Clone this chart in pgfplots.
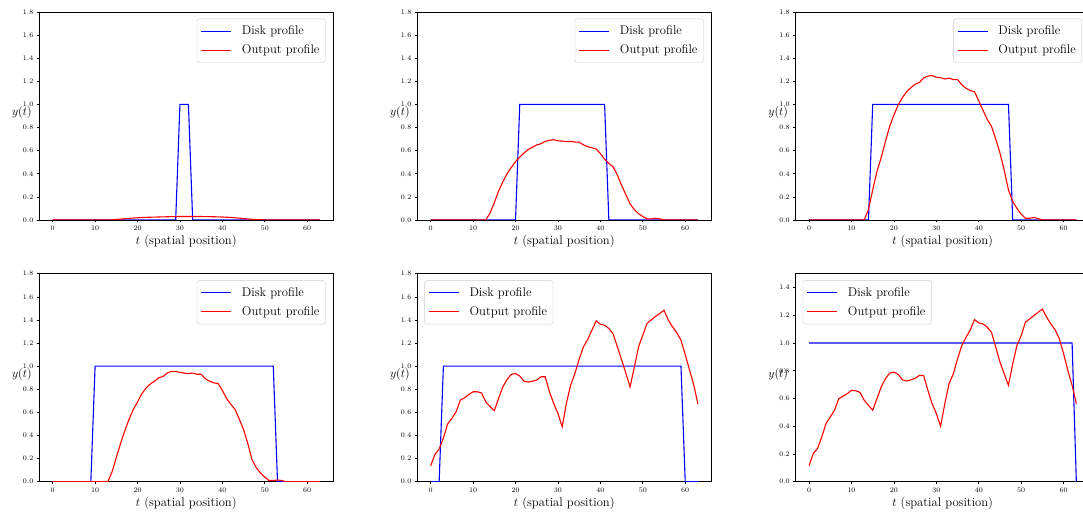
\documentclass[border=0pt]{standalone}
\usepackage{pgfplots}
\usepackage{pgfplotstable}
\pgfplotsset{compat=1.18}

\pgfplotstableread{
t p1 p2 p3 p4 p5 p6
0 0 0 0 0 0.138 0.115
1 0 0 0 0 0.236 0.204
2 0 0 0 0 0.282 0.240
3 0 0 0 0 0.378 0.323
4 0 0 0 0 0.500 0.420
5 0 0 0 0 0.548 0.467
6 0 0 0 0 0.605 0.515
7 0 0 0 0 0.706 0.599
8 0 0 0 0 0.726 0.616
9 0 0 0 0 0.755 0.635
10 0 0 0 0 0.778 0.659
11 0 0 0 0 0.778 0.656
12 0 0 0 0 0.767 0.644
13 0 0 0 0 0.690 0.587
14 0.002 0.06 0.09 0.085 0.650 0.551
15 0.005 0.15 0.26 0.21 0.614 0.515
16 0.008 0.25 0.42 0.33 0.720 0.599
17 0.011 0.33 0.54 0.44 0.820 0.683
18 0.014 0.40 0.68 0.54 0.885 0.743
19 0.017 0.455 0.81 0.625 0.928 0.783
20 0.019 0.505 0.91 0.69 0.937 0.790
21 0.021 0.545 0.995 0.76 0.914 0.774
22 0.023 0.58 1.06 0.81 0.870 0.735
23 0.024 0.61 1.11 0.845 0.862 0.726
24 0.025 0.63 1.145 0.87 0.870 0.735
25 0.026 0.65 1.175 0.90 0.879 0.745
26 0.027 0.66 1.19 0.91 0.908 0.766
27 0.028 0.68 1.23 0.94 0.908 0.766
28 0.029 0.69 1.245 0.955 0.778 0.659
29 0.029 0.695 1.25 0.955 0.677 0.563
30 0.030 0.685 1.235 0.945 0.590 0.491
31 0.030 0.683 1.232 0.94 0.475 0.400
32 0.030 0.678 1.22 0.935 0.680 0.563
33 0.030 0.68 1.228 0.94 0.836 0.707
34 0.030 0.675 1.215 0.93 0.937 0.778
35 0.030 0.673 1.215 0.93 1.060 0.886
36 0.029 0.65 1.17 0.89 1.167 0.982
37 0.029 0.635 1.14 0.87 1.230 1.042
38 0.028 0.625 1.12 0.855 1.310 1.095
39 0.027 0.615 1.11 0.85 1.392 1.169
40 0.026 0.575 1.03 0.79 1.363 1.145
41 0.024 0.525 0.95 0.72 1.354 1.138
42 0.022 0.49 0.87 0.67 1.326 1.114
43 0.019 0.46 0.81 0.625 1.280 1.078
44 0.016 0.39 0.70 0.54 1.167 0.970
45 0.012 0.30 0.58 0.45 1.055 0.862
46 0.009 0.22 0.43 0.33 0.940 0.778
47 0.006 0.14 0.26 0.19 0.820 0.695
48 0.003 0.09 0.16 0.12 0.990 0.850
49 0.002 0.055 0.10 0.075 1.167 0.982
50 0.001 0.03 0.05 0.04 1.268 1.054
51 0 0.01 0.015 0.01 1.370 1.150
52 0 0.01 0.015 0.01 1.400 1.174
53 0 0.015 0.022 0.015 1.430 1.198
54 0 0.01 0.012 0.01 1.455 1.222
55 0 0 0 0 1.484 1.245
56 0 0 0 0 1.400 1.186
57 0 0 0 0 1.340 1.138
58 0 0 0 0 1.290 1.095
59 0 0 0 0 1.225 1.030
60 0 0 0 0 1.100 0.922
61 0 0 0 0 0.970 0.802
62 0 0 0 0 0.840 0.695
63 0 0 0 0 0.670 0.563
}\outdata

\pgfplotsset{
  panel/.style={
    scale only axis, width=294pt, height=208pt,
    xmin=-3.15, xmax=66.15, ymin=0, ymax=1.8,
    xtick={0,10,20,30,40,50,60},
    ytick={0,0.2,0.4,0.6,0.8,1.0,1.2,1.4,1.6,1.8},
    tick pos=left, tick align=outside, major tick length=2.5pt,
    tick style={black, line width=0.6pt},
    axis line style={line width=0.9pt},
    ticklabel style={font=\fontsize{7}{8}\selectfont},
    yticklabel style={/pgf/number format/.cd, fixed, fixed zerofill, precision=1},
    every axis label/.append style={font=\fontsize{12.6}{14}\selectfont},
    every axis y label/.style={at={(axis description cs:0,0.5)}, anchor=base, xshift=-17.5pt},
    every axis x label/.style={at={(axis description cs:0.5,0)}, anchor=base, yshift=-25pt},
    xlabel={$t$ (spatial position)}, ylabel={$y(t)$},
    legend cell align=left,
    legend image code/.code={\fill[##1, sharp corners, draw=none] (0pt,-0.55pt) rectangle (30pt,0.55pt);},
    legend style={font=\fontsize{12.6}{14}\selectfont, draw=black!20, rounded corners=2.5pt,
      row sep=3.5pt, inner xsep=4.5pt, inner ysep=4.5pt,
      nodes={inner xsep=1.5pt, inner ysep=2.6pt},
      /tikz/every odd column/.append style={column sep=9pt}},
  },
  legne/.style={legend style={at={(axis description cs:0.974,0.968)}, anchor=north east}},
  legnw/.style={legend style={at={(axis description cs:0.024,0.968)}, anchor=north west}},
  blueline/.style={blue, line width=1.1pt},
  redline/.style={red, line width=1.1pt},
}

\begin{document}
\begin{tikzpicture}
\useasboundingbox (0,0) rectangle (1083pt,513pt);

% Panel 1
\begin{axis}[panel, legne, at={(39.3pt,293pt)}, anchor=south west]
\addplot[blueline] coordinates {(0,0) (29,0) (30,1) (32,1) (33,0) (63,0)};
\addlegendentry{Disk profile}
\addplot[redline] table[x=t, y=p1] {\outdata};
\addlegendentry{Output profile}
\end{axis}

% Panel 2
\begin{axis}[panel, legne, at={(417.3pt,293pt)}, anchor=south west]
\addplot[blueline] coordinates {(0,0) (20,0) (21,1) (41,1) (42,0) (63,0)};
\addlegendentry{Disk profile}
\addplot[redline] table[x=t, y=p2] {\outdata};
\addlegendentry{Output profile}
\end{axis}

% Panel 3
\begin{axis}[panel, legne, at={(795.7pt,293pt)}, anchor=south west]
\addplot[blueline] coordinates {(0,0) (14,0) (15,1) (47,1) (48,0) (63,0)};
\addlegendentry{Disk profile}
\addplot[redline] table[x=t, y=p3] {\outdata};
\addlegendentry{Output profile}
\end{axis}

% Panel 4
\begin{axis}[panel, legne, at={(39.3pt,31.3pt)}, anchor=south west]
\addplot[blueline] coordinates {(0,0) (9,0) (10,1) (52,1) (53,0) (63,0)};
\addlegendentry{Disk profile}
\addplot[redline] table[x=t, y=p4] {\outdata};
\addlegendentry{Output profile}
\end{axis}

% Panel 5
\begin{axis}[panel, legnw, at={(417.3pt,31.3pt)}, anchor=south west]
\addplot[blueline] coordinates {(0,0) (2,0) (3,1) (59,1) (60,0) (63,0)};
\addlegendentry{Disk profile}
\addplot[redline] table[x=t, y=p5] {\outdata};
\addlegendentry{Output profile}
\end{axis}

% Panel 6
\begin{axis}[panel, legnw, at={(795.7pt,31.3pt)}, anchor=south west,
  ymax=1.5, ytick={0,0.2,0.4,0.6,0.8,1.0,1.2,1.4}]
\addplot[blueline] coordinates {(0,1) (62,1) (63,0)};
\addlegendentry{Disk profile}
\addplot[redline] table[x=t, y=p6] {\outdata};
\addlegendentry{Output profile}
\end{axis}
\end{tikzpicture}
\end{document}
